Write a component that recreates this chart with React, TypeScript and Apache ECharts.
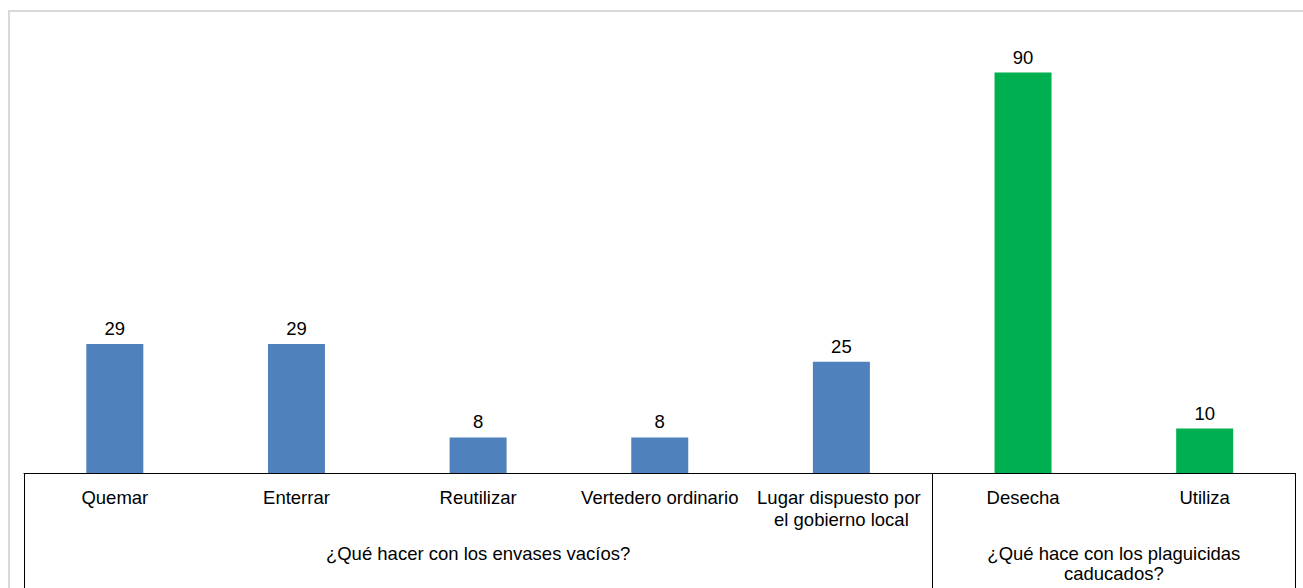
import React, { useEffect, useRef } from "react";
import * as echarts from "echarts";

// Answers to the survey questions (percent of respondents)
const categories = [
  "Quemar",
  "Enterrar",
  "Reutilizar",
  "Vertedero ordinario",
  "Lugar dispuesto por el gobierno local",
  "Desecha",
  "Utiliza",
];
const values = [29, 29, 8, 8, 25, 90, 10];

// Question groups: label and the index range of categories they cover
const groupLabels = [
  "¿Qué hacer con los envases vacíos?",
  "¿Qué hace con los plaguicidas\ncaducados?",
];
const groupStarts = [0, 5];
const groupEnds = [4, 6];

const groupColors = ["#4f81bd", "#00b050"];

const FONT = "'Liberation Sans', Arial, Helvetica, sans-serif";

export default function App() {
  const ref = useRef<HTMLDivElement>(null);

  useEffect(() => {
    if (!ref.current) return;
    const chart = echarts.init(ref.current, undefined, { renderer: "svg" });

    const barColor = (i: number) => {
      const g = groupStarts.findIndex((s, k) => i >= s && i <= groupEnds[k]);
      return groupColors[g];
    };

    chart.setOption({
      animation: false,
      backgroundColor: "#ffffff",
      grid: { left: 24, right: 7.5, top: 28, bottom: 115 },
      xAxis: {
        type: "category",
        data: categories,
        boundaryGap: true,
        axisLine: { show: true, lineStyle: { color: "#000", width: 1 } },
        axisTick: {
          show: true,
          interval: (index: number) => groupStarts.includes(index),
          length: 125,
          lineStyle: { color: "#000", width: 1 },
        },
        axisLabel: {
          interval: 0,
          margin: 13,
          fontFamily: FONT,
          fontSize: 18.5,
          color: "#000",
          lineHeight: 22,
          width: 172,
          overflow: "break",
        },
        splitLine: { show: false },
      },
      yAxis: {
        type: "value",
        min: 0,
        max: 100,
        show: false,
        splitLine: { show: false },
      },
      series: [
        {
          type: "bar",
          barWidth: 57,
          data: values.map((v, i) => ({
            value: v,
            itemStyle: { color: barColor(i) },
          })),
          label: {
            show: true,
            position: "top",
            distance: 6,
            fontFamily: FONT,
            fontSize: 18.5,
            color: "#000",
          },
        },
      ],
    });

    // Question titles centred under their group of categories
    const groupTexts = groupLabels.map((label, k) => {
      const a = chart.convertToPixel({ xAxisIndex: 0 }, groupStarts[k]) as number;
      const b = chart.convertToPixel({ xAxisIndex: 0 }, groupEnds[k]) as number;
      return {
        type: "text",
        silent: true,
        style: {
          text: label,
          x: (a + b) / 2,
          y: 543,
          align: "center",
          verticalAlign: "top",
          font: `18.5px ${FONT}`,
          fill: "#000",
          lineHeight: 20,
        },
      };
    });

    chart.setOption({
      graphic: [
        {
          type: "rect",
          silent: true,
          shape: { x: 9, y: 11, width: 1310, height: 600 },
          style: { fill: "none", stroke: "#d9d9d9", lineWidth: 2 },
        },
        ...groupTexts,
      ],
    });

    return () => chart.dispose();
  }, []);

  return (
    <div
      ref={ref}
      style={{ position: "fixed", left: 0, top: 0, width: 1303, height: 588 }}
    />
  );
}
